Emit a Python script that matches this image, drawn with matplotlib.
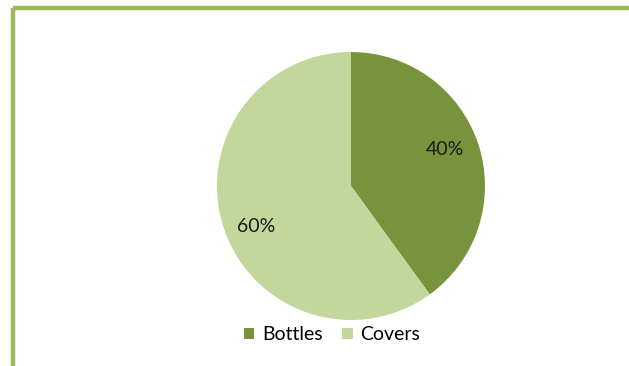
import matplotlib.pyplot as plt
from matplotlib.lines import Line2D

plt.rcParams['font.family'] = ['Lato', 'DejaVu Sans']

labels = ["Bottles", "Covers"]
shares = [40, 60]
colors = ["#77933C", "#C3D69B"]
border = "#9BBB59"

W, H = 629, 366
fig = plt.figure(figsize=(W / 100, H / 100), dpi=100)

# green frame along the top and left edges
fig.add_artist(Line2D([13 / W, 1], [1 - 8 / H, 1 - 8 / H], color=border, lw=3.2,
                      solid_capstyle="butt"))
fig.add_artist(Line2D([13 / W, 13 / W], [0, 1 - 8 / H], color=border, lw=3.2,
                      solid_capstyle="butt"))

cx, cy, r = 351, 186, 134
ax = fig.add_axes([(cx - r) / W, (H - cy - r) / H, 2 * r / W, 2 * r / H])
wedges, _, pct = ax.pie(shares, colors=colors, startangle=90, counterclock=False,
                        autopct="%d%%", pctdistance=0.76, radius=1.0,
                        textprops=dict(fontsize=14, color="#1a1a1a"))
# nudge the percentage labels into their best-fit spots
pct[0].set_position((0.70, 0.27))
pct[1].set_position((-0.71, -0.30))
ax.set_xlim(-1, 1)
ax.set_ylim(-1, 1)
ax.set_aspect("equal")

fig.legend(wedges, labels, loc="center", bbox_to_anchor=(332 / W, 1 - 335 / H),
           ncol=2, frameon=False, fontsize=14, handlelength=0.55, handleheight=0.55,
           handletextpad=0.4, columnspacing=1.0)

fig.savefig("out.png", dpi=100)
